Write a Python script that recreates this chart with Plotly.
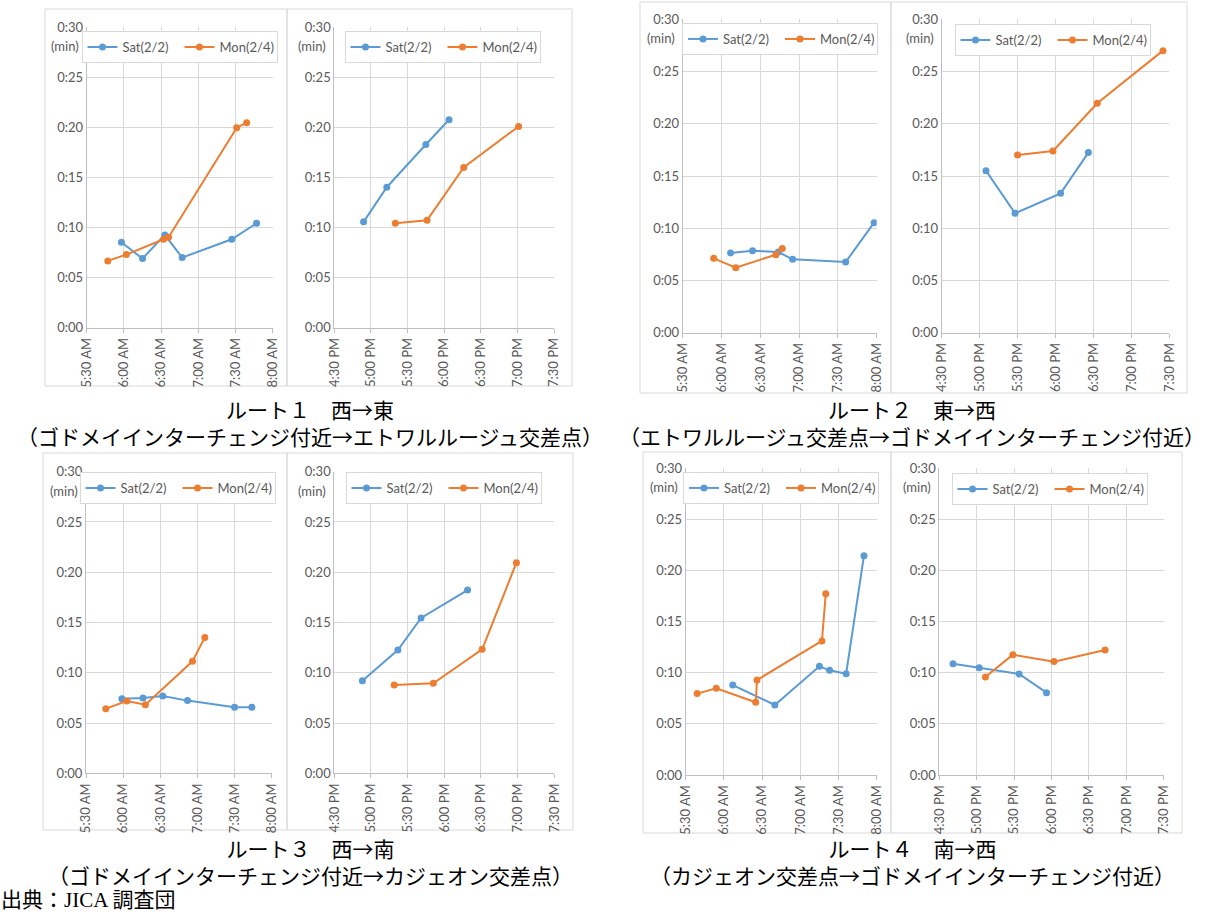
import plotly.graph_objects as go

W, H = 1206, 912
DAY = "2019-02-04 "

# ---------------- data ----------------
AM_TICKS = ["05:30", "06:00", "06:30", "07:00", "07:30", "08:00"]
AM_LABELS = ["5:30 AM", "6:00 AM", "6:30 AM", "7:00 AM", "7:30 AM", "8:00 AM"]
PM_TICKS = ["16:30", "17:00", "17:30", "18:00", "18:30", "19:00", "19:30"]
PM_LABELS = ["4:30 PM", "5:00 PM", "5:30 PM", "6:00 PM", "6:30 PM", "7:00 PM", "7:30 PM"]
Y_TICKS = [0, 5, 10, 15, 20, 25, 30]
Y_LABELS = ["0:00", "0:05", "0:10", "0:15", "0:20", "0:25", "0:30"]
SERIES_NAMES = ["Sat(2/2)", "Mon(2/4)"]

# Route 1 West -> East
r1_am_sat_t = ["05:58", "06:15", "06:33", "06:47", "07:27", "07:47"]
r1_am_sat_v = [8.53, 6.90, 9.27, 7.00, 8.83, 10.43]
r1_am_mon_t = ["05:47", "06:02", "06:32", "06:36", "07:31", "07:39"]
r1_am_mon_v = [6.67, 7.30, 8.83, 9.03, 19.97, 20.47]
r1_pm_sat_t = ["16:54", "17:13", "17:45", "18:04"]
r1_pm_sat_v = [10.57, 14.03, 18.30, 20.77]
r1_pm_mon_t = ["17:20", "17:46", "18:16", "19:01"]
r1_pm_mon_v = [10.43, 10.73, 16.00, 20.10]

# Route 2 East -> West
r2_am_sat_t = ["06:07", "06:24", "06:44", "06:55", "07:36", "07:58"]
r2_am_sat_v = [7.63, 7.85, 7.72, 7.02, 6.77, 10.53]
r2_am_mon_t = ["05:54", "06:11", "06:42", "06:47"]
r2_am_mon_v = [7.12, 6.22, 7.47, 8.07]
r2_pm_sat_t = ["17:05", "17:28", "18:04", "18:26"]
r2_pm_sat_v = [15.51, 11.43, 13.34, 17.24]
r2_pm_mon_t = ["17:30", "17:58", "18:33", "19:25"]
r2_pm_mon_v = [17.01, 17.40, 21.96, 27.00]

# Route 3 West -> South
r3_am_sat_t = ["05:59", "06:16", "06:32", "06:52", "07:30", "07:44"]
r3_am_sat_v = [7.42, 7.49, 7.69, 7.23, 6.56, 6.56]
r3_am_mon_t = ["05:46", "06:03", "06:18", "06:56", "07:06"]
r3_am_mon_v = [6.43, 7.19, 6.83, 11.14, 13.52]
r3_pm_sat_t = ["16:53", "17:22", "17:41", "18:19"]
r3_pm_sat_v = [9.21, 12.26, 15.45, 18.23]
r3_pm_mon_t = ["17:19", "17:51", "18:31", "18:59"]
r3_pm_mon_v = [8.78, 8.95, 12.33, 20.95]

# Route 4 South -> West
r4_am_sat_t = ["06:07", "06:40", "07:15", "07:23", "07:36", "07:50"]
r4_am_sat_v = [8.80, 6.85, 10.63, 10.24, 9.91, 21.45]
r4_am_mon_t = ["05:39", "05:54", "06:25", "06:26", "07:17", "07:20"]
r4_am_mon_v = [7.96, 8.48, 7.11, 9.29, 13.11, 17.74]
r4_pm_sat_t = ["16:41", "17:02", "17:34", "17:56"]
r4_pm_sat_v = [10.89, 10.50, 9.88, 8.05]
r4_pm_mon_t = ["17:07", "17:29", "18:02", "18:43"]
r4_pm_mon_v = [9.59, 11.77, 11.09, 12.23]

TITLES = [
    ("ルート１　西→東", "（ゴドメイインターチェンジ付近→エトワルルージュ交差点）"),
    ("ルート２　東→西", "（エトワルルージュ交差点→ゴドメイインターチェンジ付近）"),
    ("ルート３　西→南", "（ゴドメイインターチェンジ付近→カジェオン交差点）"),
    ("ルート４　南→西", "（カジェオン交差点→ゴドメイインターチェンジ付近）"),
]
SOURCE = "出典：JICA 調査団"

# ---------------- styling / layout ----------------
BLUE = "#5B9BD5"
ORANGE = "#ED7D31"
GRID = "#d9d9d9"
AXIS = "#bfbfbf"
TXT = "#595959"
FONT = "Lato, 'Open Sans', sans-serif"
CJK = "'Noto Sans CJK JP', sans-serif"

# panel: (sat_t, sat_v, mon_t, mon_v, is_am, plot box px [x0,x1,y0(top),y1(bottom)], legend px [x0,x1,ytop], frame px [x0,y0,x1,y1])
panels = [
    (r1_am_sat_t, r1_am_sat_v, r1_am_mon_t, r1_am_mon_v, True, (86.7, 272.7, 27.3, 327.7), (90, 269, 31), (45, 9, 287, 386)),
    (r1_pm_sat_t, r1_pm_sat_v, r1_pm_mon_t, r1_pm_mon_v, False, (334.3, 554.0, 27.3, 327.7), (351, 534, 31), (287, 9, 572, 386)),
    (r2_am_sat_t, r2_am_sat_v, r2_am_mon_t, r2_am_mon_v, True, (682.7, 876.7, 19.3, 332.7), (686, 874, 23), (640, 2, 891, 393)),
    (r2_pm_sat_t, r2_pm_sat_v, r2_pm_mon_t, r2_pm_mon_v, False, (941.7, 1169.3, 19.3, 332.7), (957, 1148, 24), (891, 2, 1187, 393)),
    (r3_am_sat_t, r3_am_sat_v, r3_am_mon_t, r3_am_mon_v, True, (86.0, 271.7, 471.7, 773.3), (86, 269, 472), (43, 453, 287, 830)),
    (r3_pm_sat_t, r3_pm_sat_v, r3_pm_mon_t, r3_pm_mon_v, False, (334.3, 554.3, 471.7, 773.3), (352, 535, 472), (287, 453, 573, 830)),
    (r4_am_sat_t, r4_am_sat_v, r4_am_mon_t, r4_am_mon_v, True, (685.7, 876.7, 468.3, 775.0), (689, 873, 472), (643, 452, 891, 833)),
    (r4_pm_sat_t, r4_pm_sat_v, r4_pm_mon_t, r4_pm_mon_v, False, (939.3, 1163.7, 468.3, 775.0), (956, 1143, 473), (891, 452, 1182, 833)),
]


def px(x):
    return x / W


def py(y):
    return 1 - y / H


fig = go.Figure()
layout = dict(
    width=W, height=H,
    margin=dict(l=0, r=0, t=0, b=0),
    paper_bgcolor="white", plot_bgcolor="white",
    font=dict(family=FONT, size=12, color=TXT),
    showlegend=True,
)
shapes = []
annotations = []

for i, (st, sv, mt, mv, is_am, box, lg, fr) in enumerate(panels):
    n = i + 1
    xa = "x" if n == 1 else f"x{n}"
    ya = "y" if n == 1 else f"y{n}"
    lname = "legend" if n == 1 else f"legend{n}"
    ticks = AM_TICKS if is_am else PM_TICKS
    labels = AM_LABELS if is_am else PM_LABELS

    for name, tt, vv, col in ((SERIES_NAMES[0], st, sv, BLUE), (SERIES_NAMES[1], mt, mv, ORANGE)):
        fig.add_trace(go.Scatter(
            x=[DAY + t for t in tt], y=vv, name=name, mode="lines+markers",
            line=dict(color=col, width=2), marker=dict(color=col, size=7),
            xaxis=xa, yaxis=ya, legend=lname,
        ))

    x0, x1, y0, y1 = box
    layout[f"xaxis{n}" if n > 1 else "xaxis"] = dict(
        type="date", domain=[px(x0), px(x1)], anchor=ya,
        range=[DAY + ticks[0], DAY + ticks[-1]],
        tickmode="array", tickvals=[DAY + t for t in ticks], ticktext=labels,
        tickangle=-90, tickfont=dict(family=FONT, size=13, color=TXT),
        showgrid=True, gridcolor=GRID, gridwidth=1,
        showline=True, linecolor=AXIS, linewidth=1,
        ticks="outside", ticklen=4, tickcolor=AXIS,
        zeroline=False, automargin=False, fixedrange=True,
    )
    layout[f"yaxis{n}" if n > 1 else "yaxis"] = dict(
        domain=[py(y1), py(y0)], anchor=xa,
        range=[0, 30], tickmode="array", tickvals=Y_TICKS, ticktext=Y_LABELS,
        tickfont=dict(family=FONT, size=13, color=TXT),
        showgrid=True, gridcolor=GRID, gridwidth=1,
        showline=True, linecolor=AXIS, linewidth=1,
        ticks="", zeroline=False, automargin=False, fixedrange=True,
    )
    lx0, lx1, ltop = lg
    layout[lname] = dict(
        x=px((lx0 + lx1) / 2), y=py(ltop), xanchor="center", yanchor="top",
        xref="paper", yref="paper",
        orientation="h", bgcolor="white", bordercolor=GRID, borderwidth=1,
        font=dict(family=FONT, size=13, color=TXT),
        entrywidth=52, entrywidthmode="pixels", itemwidth=30,
        traceorder="normal",
    )
    annotations.append(dict(
        text="(min)", x=px(x0 - 6), y=py(y0 + 19), xref="paper", yref="paper",
        xanchor="right", yanchor="middle", showarrow=False,
        font=dict(family=FONT, size=13, color=TXT),
    ))
    fx0, fy0, fx1, fy1 = fr
    shapes.append(dict(type="rect", xref="paper", yref="paper",
                       x0=px(fx0), x1=px(fx1), y0=py(fy1), y1=py(fy0),
                       line=dict(color=GRID, width=1), layer="below"))

# titles (two lines in one annotation)
title_pos = [(310, 422), (912, 422), (310, 861), (912, 861)]
for (l1, l2), (cx, cy) in zip(TITLES, title_pos):
    annotations.append(dict(text=l1 + "<br>" + l2, x=px(cx), y=py(cy), xref="paper", yref="paper",
                            xanchor="center", yanchor="middle", align="center", showarrow=False,
                            borderpad=0,
                            font=dict(family=CJK, size=21, color="black")))
annotations.append(dict(text=SOURCE, x=0, y=py(900), xref="paper", yref="paper",
                        xanchor="left", yanchor="middle", showarrow=False, borderpad=0,
                        font=dict(family="'Liberation Serif', 'Noto Sans CJK JP', serif", size=21, color="black")))

layout["shapes"] = shapes
layout["annotations"] = annotations
fig.update_layout(**layout)
fig.write_html("out.html")
